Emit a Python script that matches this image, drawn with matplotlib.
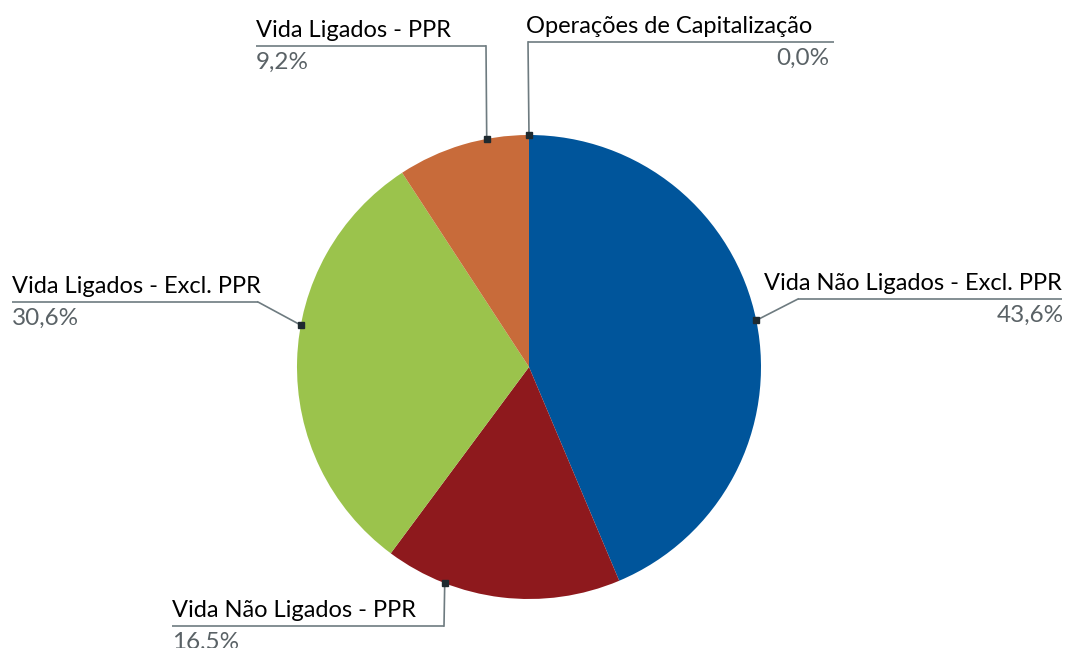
import numpy as np
import matplotlib.pyplot as plt

# data
categories = ["Vida Não Ligados - Excl. PPR", "Vida Não Ligados - PPR",
              "Vida Ligados - Excl. PPR", "Vida Ligados - PPR",
              "Operações de Capitalização"]
shares = [43.6, 16.5, 30.6, 9.2, 0.0]
colors = ["#00559B", "#8E191D", "#9BC34C", "#C86B3A", "#7F7F7F"]

W, H = 1070, 648
plt.rcParams['font.family'] = ['Lato', 'DejaVu Sans']

fig = plt.figure(figsize=(W / 100, H / 100), dpi=100)
ax = fig.add_axes([0, 0, 1, 1])

cx, cy, r = 529, H - 367, 232
ax.pie(shares, colors=colors, startangle=90, counterclock=False,
       center=(cx, cy), radius=r, frame=True,
       wedgeprops=dict(linewidth=0))
ax.set_xlim(0, W)
ax.set_ylim(0, H)
ax.set_aspect('equal')
ax.axis('off')

# label layout: anchor angle on pie, name x, pct x, baseline y,
# underline x0, x1, elbow x, name align, pct align
layout = [
    (11.6, 1062, 1064, 290, 798, 1062, 798, 'right', 'right'),
    (248.7, 172, 172, 617, 172, 444, 444, 'left', 'left'),
    (169.6, 12, 12, 293, 12, 258, 258, 'left', 'left'),
    (100.5, 256, 256, 37, 256, 486, 486, 'left', 'left'),
    (90.0, 526, 829, 33, 528, 834, 528, 'left', 'right'),
]

line_c = "#6E7B80"
for name, val, (ang, nx, px, ty, ux0, ux1, ex, ha, pha) in zip(categories, shares, layout):
    a = np.deg2rad(ang)
    mx, my = cx + r * np.cos(a), cy + r * np.sin(a)
    uy = H - ty - 9
    ax.plot([ux0, ux1], [uy, uy], color=line_c, lw=1.2, solid_capstyle='butt')
    ax.plot([ex, mx], [uy, my], color=line_c, lw=1.2)
    ax.plot([mx], [my], marker='s', ms=4.5, color="#1E2A30", zorder=5)
    ax.text(nx, H - ty, name, ha=ha, va='baseline', fontsize=17, color="#000000")
    ax.text(px, H - ty - 32, f"{val:.1f}%".replace('.', ','),
            ha=pha, va='baseline', fontsize=17.5, color="#5A6266")

fig.savefig("out.png", dpi=100)
